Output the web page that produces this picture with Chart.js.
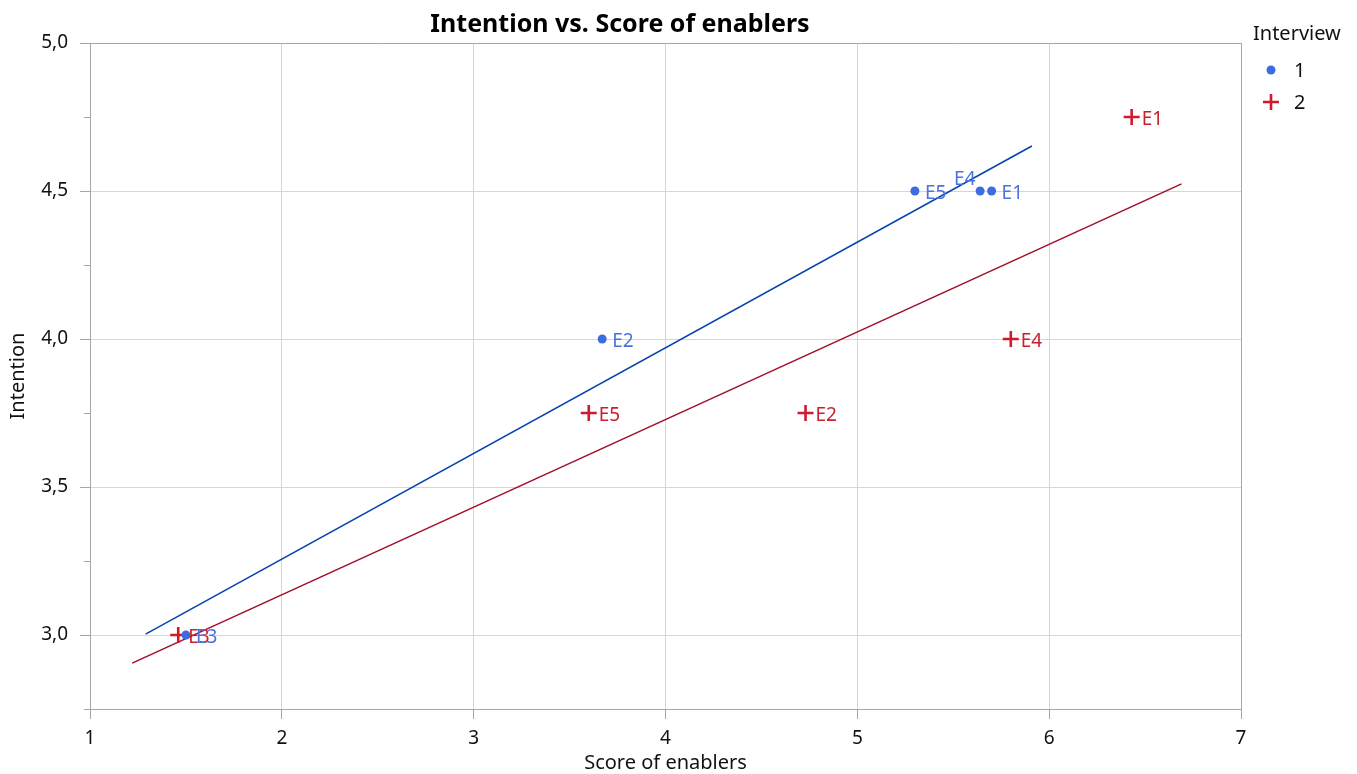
<!DOCTYPE html>
<html>
<head>
<meta charset="utf-8">
<script src="https://cdn.jsdelivr.net/npm/chart.js@4/dist/chart.umd.min.js"></script>
<style>
html,body{margin:0;padding:0;background:#fff;}
#wrap{width:1357px;height:774px;position:relative;}
</style>
</head>
<body>
<div id="wrap"><canvas id="c" width="1357" height="774"></canvas></div>
<script>
// ---- data ----
const labels1 = ["E1", "E4", "E5", "E2", "E3"];
const x1 = [5.70, 5.64, 5.30, 3.67, 1.50];
const y1 = [4.5, 4.5, 4.5, 4.0, 3.0];
const labels2 = ["E1", "E4", "E2", "E5", "E3"];
const x2 = [6.43, 5.80, 4.73, 3.60, 1.46];
const y2 = [4.75, 4.0, 3.75, 3.75, 3.0];
const fit1X = [1.29, 5.91];
const fit1Y = [3.003, 4.652];
const fit2X = [1.22, 6.69];
const fit2Y = [2.905, 4.524];
const xTicks = [1, 2, 3, 4, 5, 6, 7];
const yTicks = [3.0, 3.5, 4.0, 4.5, 5.0];
const yMinor = [2.75, 3.25, 3.75, 4.25, 4.75];
const seriesNames = ["1", "2"];

const FONT = "'Noto Sans', 'Open Sans', sans-serif";
const BLUE = '#3f6be0', BLUE_TXT = '#4b73dc', BLUE_LINE = '#0645b0';
const RED = '#cf1a2e', RED_TXT = '#c8202f', RED_LINE = '#a30f2b';
const AXIS = '#a6a6a6', GRID = '#d6d6d6';

const pts = (xs, ys) => xs.map((x, i) => ({x: x, y: ys[i]}));

// label placement overrides (style, not data)
const labelOffsets = {"0:E4": {dx: -26, dy: -11}};

const decorPlugin = {
  id: 'decor',
  afterDraw(chart) {
    const ctx = chart.ctx, a = chart.chartArea;
    const xs = chart.scales.x, ys = chart.scales.y;
    ctx.save();
    // frame top/right
    ctx.strokeStyle = AXIS; ctx.lineWidth = 1;
    ctx.beginPath();
    ctx.moveTo(a.left, Math.round(a.top) + 0.5); ctx.lineTo(Math.round(a.right) + 0.5, Math.round(a.top) + 0.5);
    ctx.lineTo(Math.round(a.right) + 0.5, a.bottom);
    ctx.stroke();
    // minor y ticks
    ctx.beginPath();
    yMinor.forEach(v => {
      const py = Math.round(ys.getPixelForValue(v)) + 0.5;
      ctx.moveTo(a.left - 6, py); ctx.lineTo(a.left, py);
    });
    ctx.stroke();
    // point labels
    ctx.font = "19px " + FONT;
    ctx.textBaseline = 'middle';
    ctx.textAlign = 'left';
    const sets = [[x1, y1, labels1, BLUE_TXT], [x2, y2, labels2, RED_TXT]];
    [1, 0].forEach(si => {
      const [xx, yy, ll, col] = sets[si];
      ctx.fillStyle = col;
      ll.forEach((lab, i) => {
        const off = labelOffsets[si + ":" + lab] || {dx: 10, dy: 3};
        ctx.fillText(lab, xs.getPixelForValue(xx[i]) + off.dx, ys.getPixelForValue(yy[i]) + off.dy);
      });
    });
    // title
    ctx.fillStyle = '#000';
    ctx.textAlign = 'center';
    ctx.font = "bold 25px " + FONT;
    ctx.fillText("Intention vs. Score of enablers", 620, 25);
    // axis titles
    ctx.font = "20px " + FONT;
    ctx.fillStyle = '#111';
    ctx.fillText("Score of enablers", (a.left + a.right) / 2, 763);
    ctx.save();
    ctx.translate(18, (a.top + a.bottom) / 2);
    ctx.rotate(-Math.PI / 2);
    ctx.fillText("Intention", 0, 0);
    ctx.restore();
    // legend
    ctx.textAlign = 'left';
    ctx.fillStyle = '#111';
    ctx.fillText("Interview", 1253, 34);
    ctx.fillText(seriesNames[0], 1294, 71);
    ctx.fillText(seriesNames[1], 1294, 103);
    ctx.fillStyle = BLUE;
    ctx.beginPath(); ctx.arc(1271, 70, 4.5, 0, Math.PI * 2); ctx.fill();
    ctx.strokeStyle = RED; ctx.lineWidth = 2.6;
    ctx.beginPath();
    ctx.moveTo(1263, 102); ctx.lineTo(1279, 102);
    ctx.moveTo(1271, 94); ctx.lineTo(1271, 110);
    ctx.stroke();
    ctx.restore();
  }
};

const fmt = v => Number(v).toFixed(1).replace('.', ',');

new Chart(document.getElementById('c'), {
  type: 'scatter',
  data: {
    datasets: [
      {label: 'fit1', data: pts(fit1X, fit1Y), showLine: true, borderColor: BLUE_LINE, borderWidth: 1.6, pointRadius: 0, order: 4},
      {label: 'fit2', data: pts(fit2X, fit2Y), showLine: true, borderColor: RED_LINE, borderWidth: 1.6, pointRadius: 0, order: 3},
      {label: seriesNames[1], data: pts(x2, y2), pointStyle: 'cross', pointRadius: 8, borderColor: RED, borderWidth: 2.6, backgroundColor: RED, order: 2},
      {label: seriesNames[0], data: pts(x1, y1), pointStyle: 'circle', pointRadius: 4.5, borderWidth: 0, backgroundColor: BLUE, borderColor: BLUE, order: 1}
    ]
  },
  options: {
    responsive: false,
    animation: false,
    events: [],
    layout: {padding: {top: 43, right: 116, left: 0, bottom: 0}},
    plugins: {legend: {display: false}, title: {display: false}, tooltip: {enabled: false}},
    scales: {
      x: {
        type: 'linear', min: 1, max: 7,
        afterBuildTicks: s => { s.ticks = xTicks.map(v => ({value: v})); },
        afterFit: s => { s.height = 65; },
        grid: {color: GRID, tickColor: AXIS, tickLength: 10, lineWidth: 1},
        border: {color: AXIS, width: 1},
        ticks: {font: {family: FONT, size: 19}, color: '#111', padding: 8, maxRotation: 0, callback: v => String(v)}
      },
      y: {
        type: 'linear', min: 2.75, max: 5.0,
        afterBuildTicks: s => { s.ticks = yTicks.map(v => ({value: v})); },
        afterFit: s => { s.width = 90; },
        grid: {color: GRID, tickColor: AXIS, tickLength: 10, lineWidth: 1},
        border: {color: AXIS, width: 1},
        ticks: {font: {family: FONT, size: 19}, color: '#111', padding: 12, callback: v => fmt(v)}
      }
    }
  },
  plugins: [decorPlugin]
});
</script>
</body>
</html>
